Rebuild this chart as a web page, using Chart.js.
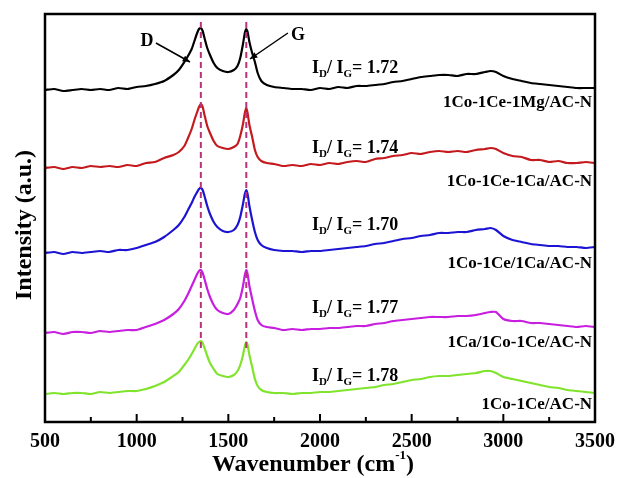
<!DOCTYPE html>
<html>
<head>
<meta charset="utf-8">
<script src="https://cdn.jsdelivr.net/npm/chart.js@4.4.0/dist/chart.umd.min.js"></script>
<style>
    body { margin: 0; background: #fff; }
    #wrap { width: 618px; height: 478px; }
</style>
</head>
<body>
<div id="wrap"><canvas id="ramanChart" width="618" height="478"></canvas></div>
<script>
// Raman spectra, stacked (values in a.u.)
const wavenumbers = [
    500, 550, 600, 650, 700, 750, 800, 850, 900, 950, 1000, 1050, 1100, 1150, 1200,
    1230, 1260, 1280, 1300, 1315, 1330, 1340, 1350, 1360, 1370, 1385, 1400, 1420, 1440, 1470, 1500, 1530, 1550,
    1565, 1580, 1590, 1598, 1605, 1615, 1630, 1645, 1660, 1680, 1710,
    1750, 1800, 1850, 1900, 1950, 2000, 2050, 2100, 2150, 2200, 2250, 2300, 2350, 2400, 2450, 2500, 2550, 2600,
    2650, 2700, 2750, 2800, 2850, 2900,
    2930, 2960,
    3000, 3050, 3100, 3150, 3200, 3250, 3300, 3350, 3400, 3450, 3500];

const sampleNames = ['1Co-1Ce-1Mg/AC-N', '1Co-1Ce-1Ca/AC-N', '1Co-1Ce/1Ca/AC-N', '1Ca/1Co-1Ce/AC-N', '1Co-1Ce/AC-N'];
const ratios = ['1.72', '1.74', '1.70', '1.77', '1.78'];
const colors = ['#000000', '#c41a1e', '#1c14d2', '#c81ee0', '#80e42c'];

const mgSeries = [
    332, 333, 331, 332, 333, 332, 333, 332, 334, 333, 335, 336, 338, 341, 347,
    352, 360, 366, 373, 381, 389, 393, 394, 391, 384, 374, 367, 359, 354, 351, 350, 352, 356,
    364, 378, 389, 393, 390, 380, 369, 360, 349, 341, 337,
    335, 334, 333, 333, 332, 334, 333, 335, 334, 336, 336, 337, 338, 340, 341, 343, 345, 346,
    347, 347, 346, 348, 348, 350,
    351, 350,
    346, 343, 341, 339, 338, 337, 336, 335, 334, 334, 334];
const caSeries = [
    254, 255, 253, 255, 254, 256, 255, 256, 255, 257, 256, 259, 260, 264, 267,
    270, 276, 284, 293, 302, 310, 315, 318, 315, 307, 296, 289, 281, 276, 274, 273, 275, 278,
    286, 298, 309, 314, 309, 297, 285, 272, 265, 261, 259,
    258, 256, 257, 256, 258, 257, 259, 258, 260, 261, 260, 263, 264, 266, 267, 269, 268, 270,
    271, 270, 271, 270, 272, 273,
    274, 273,
    269, 266, 265, 262, 262, 260, 261, 259, 259, 260, 259];
const ceCaSeries = [
    169, 170, 168, 170, 169, 170, 171, 170, 172, 172, 174, 177, 180, 185, 192,
    197, 205, 212, 219, 225, 230, 233, 234, 232, 226, 216, 208, 200, 195, 191, 190, 192, 197,
    205, 218, 228, 232, 228, 216, 202, 190, 182, 177, 174,
    172, 171, 171, 170, 171, 171, 172, 173, 174, 175, 176, 178, 179, 181, 183, 184, 186, 187,
    189, 189, 190, 190, 192, 193,
    194, 192,
    186, 182, 180, 178, 177, 176, 176, 175, 175, 174, 175];
const caCoCeSeries = [
    89, 90, 88, 90, 90, 89, 91, 90, 91, 92, 92, 95, 98, 102, 108,
    113, 121, 128, 136, 142, 148, 151, 152, 149, 143, 133, 125, 117, 112, 109, 108, 112, 118,
    124, 136, 147, 152, 148, 136, 123, 111, 102, 97, 95,
    94, 92, 93, 92, 93, 93, 94, 94, 95, 96, 96, 98, 99, 101, 102, 103, 104, 105,
    105, 105, 106, 106, 107, 109,
    110, 110,
    103, 101, 101, 99, 99, 98, 97, 96, 95, 96, 95];
const coCeSeries = [
    28, 29, 28, 29, 29, 28, 30, 29, 30, 31, 31, 33, 36, 40, 46,
    50, 57, 62, 68, 73, 78, 80, 81, 79, 74, 66, 59, 53, 48, 46, 45, 47, 51,
    57, 67, 76, 80, 77, 67, 55, 43, 36, 32, 30,
    29, 29, 28, 29, 29, 30, 30, 31, 32, 33, 34, 35, 37, 38, 40, 42, 43, 45,
    46, 46, 47, 48, 49, 51,
    51, 49,
    45, 43, 41, 39, 37, 35, 34, 32, 31, 30, 29];

const allSeries = [mgSeries, caSeries, ceCaSeries, caCoCeSeries, coCeSeries];

// x ticks
const xMin = 500, xMax = 3500, xStep = 500, minorStep = 250;
const yMin = 0, yMax = 408;

// peak positions (dashed lines)
const peakD = 1350, peakG = 1598;

// label anchors in data units
const ratioX = 1956;
const ratioY = [354, 274, 197, 114, 46];
const nameX = 3484;
const nameY = [319, 240, 158, 79, 17];

const serif = '"Liberation Serif", "Times New Roman", serif';

// Draw frame, inward ticks, dashed lines, annotations
const decorPlugin = {
    id: 'decor',
    afterDatasetsDraw(chart) {
        const { ctx, chartArea: a, scales: { x, y } } = chart;
        ctx.save();

        // dashed peak markers
        ctx.strokeStyle = '#b8327c';
        ctx.lineWidth = 2;
        ctx.setLineDash([6, 4]);
        [peakD, peakG].forEach(p => {
            const px = x.getPixelForValue(p);
            ctx.beginPath();
            ctx.moveTo(px, y.getPixelForValue(400));
            ctx.lineTo(px, y.getPixelForValue(70));
            ctx.stroke();
        });
        ctx.setLineDash([]);

        // frame
        ctx.strokeStyle = '#000';
        ctx.lineWidth = 2.5;
        ctx.strokeRect(a.left, a.top, a.right - a.left, a.bottom - a.top);

        // inward ticks at the bottom
        ctx.lineWidth = 2;
        for (let v = xMin + minorStep; v < xMax; v += minorStep) {
            const px = x.getPixelForValue(v);
            const len = (v % xStep === 0) ? 8 : 5;
            ctx.beginPath();
            ctx.moveTo(px, a.bottom);
            ctx.lineTo(px, a.bottom - len);
            ctx.stroke();
        }

        // D / G arrows
        ctx.fillStyle = '#000';
        ctx.font = 'bold 18px ' + serif;
        ctx.textBaseline = 'middle';
        ctx.textAlign = 'center';
        ctx.fillText('D', x.getPixelForValue(1056), y.getPixelForValue(381));
        ctx.fillText('G', x.getPixelForValue(1880), y.getPixelForValue(387));
        drawArrow(ctx, x.getPixelForValue(1105), y.getPixelForValue(379), x.getPixelForValue(1291), y.getPixelForValue(360));
        drawArrow(ctx, x.getPixelForValue(1825), y.getPixelForValue(389), x.getPixelForValue(1618), y.getPixelForValue(363));

        // ratio labels
        ratios.forEach((r, i) => {
            drawRatio(ctx, x.getPixelForValue(ratioX), y.getPixelForValue(ratioY[i]), r);
        });

        // sample names
        ctx.font = 'bold 17px ' + serif;
        ctx.textAlign = 'right';
        ctx.textBaseline = 'middle';
        sampleNames.forEach((n, i) => {
            ctx.fillText(n, x.getPixelForValue(nameX), y.getPixelForValue(nameY[i]));
        });

        // axis titles
        ctx.font = 'bold 24px ' + serif;
        ctx.textAlign = 'left';
        ctx.textBaseline = 'alphabetic';
        const t1 = 'Wavenumber (cm', sup = '-1', t2 = ')';
        const w1 = ctx.measureText(t1).width;
        ctx.font = 'bold 13px ' + serif;
        const ws = ctx.measureText(sup).width;
        ctx.font = 'bold 24px ' + serif;
        const w2 = ctx.measureText(t2).width;
        let tx = 313 - (w1 + ws + w2) / 2;
        const ty = 471;
        ctx.fillText(t1, tx, ty);
        ctx.font = 'bold 13px ' + serif;
        ctx.fillText(sup, tx + w1, ty - 12);
        ctx.font = 'bold 24px ' + serif;
        ctx.fillText(t2, tx + w1 + ws, ty);

        ctx.save();
        ctx.translate(25, 225);
        ctx.rotate(-Math.PI / 2);
        ctx.textAlign = 'center';
        ctx.textBaseline = 'middle';
        ctx.fillText('Intensity (a.u.)', 0, 0);
        ctx.restore();

        ctx.restore();
    }
};

function drawArrow(ctx, x1, y1, x2, y2) {
    ctx.strokeStyle = '#000';
    ctx.lineWidth = 1.5;
    ctx.beginPath();
    ctx.moveTo(x1, y1);
    ctx.lineTo(x2, y2);
    ctx.stroke();
    const ang = Math.atan2(y2 - y1, x2 - x1);
    const len = 8;
    ctx.beginPath();
    ctx.moveTo(x2, y2);
    ctx.lineTo(x2 - len * Math.cos(ang - 0.4), y2 - len * Math.sin(ang - 0.4));
    ctx.lineTo(x2 - len * Math.cos(ang + 0.4), y2 - len * Math.sin(ang + 0.4));
    ctx.closePath();
    ctx.fill();
}

function drawRatio(ctx, x0, yc, value) {
    const big = 'bold 18px ' + serif, small = 'bold 11px ' + serif;
    const parts = [['I', big, 0], ['D', small, 6], ['/ I', big, 0], ['G', small, 6], ['= ' + value, big, 0]];
    ctx.textAlign = 'left';
    ctx.textBaseline = 'middle';
    let cx = x0;
    parts.forEach(([t, f, dy]) => {
        ctx.font = f;
        ctx.fillText(t, cx, yc + dy);
        cx += ctx.measureText(t).width;
    });
}

const datasets = allSeries.map((s, i) => ({
    label: sampleNames[i],
    data: wavenumbers.map((w, j) => ({ x: w, y: s[j] })),
    borderColor: colors[i],
    borderWidth: 2.2,
    pointRadius: 0,
    tension: 0.2,
    fill: false
}));

const ctx = document.getElementById('ramanChart').getContext('2d');
new Chart(ctx, {
    type: 'line',
    data: { datasets: datasets },
    options: {
        responsive: false,
        animation: false,
        devicePixelRatio: 1,
        layout: { padding: { top: 14, right: 23, left: 0, bottom: 0 } },
        plugins: { legend: { display: false }, tooltip: { enabled: false } },
        scales: {
            x: {
                type: 'linear',
                min: xMin,
                max: xMax,
                grid: { display: false, drawTicks: false },
                border: { display: false },
                ticks: {
                    stepSize: xStep,
                    autoSkip: false,
                    maxRotation: 0,
                    padding: 8,
                    color: '#000',
                    font: { family: serif, size: 20, weight: 'bold' },
                    callback: v => String(v)
                },
                afterFit: s => {
                    s.height = 56;
                    s.paddingLeft = 0;
                    s.paddingRight = 0;
                }
            },
            y: {
                min: yMin,
                max: yMax,
                grid: { display: false, drawTicks: false },
                border: { display: false },
                ticks: { display: false },
                afterFit: s => { s.width = 45; }
            }
        }
    },
    plugins: [decorPlugin]
});
</script>
</body>
</html>
